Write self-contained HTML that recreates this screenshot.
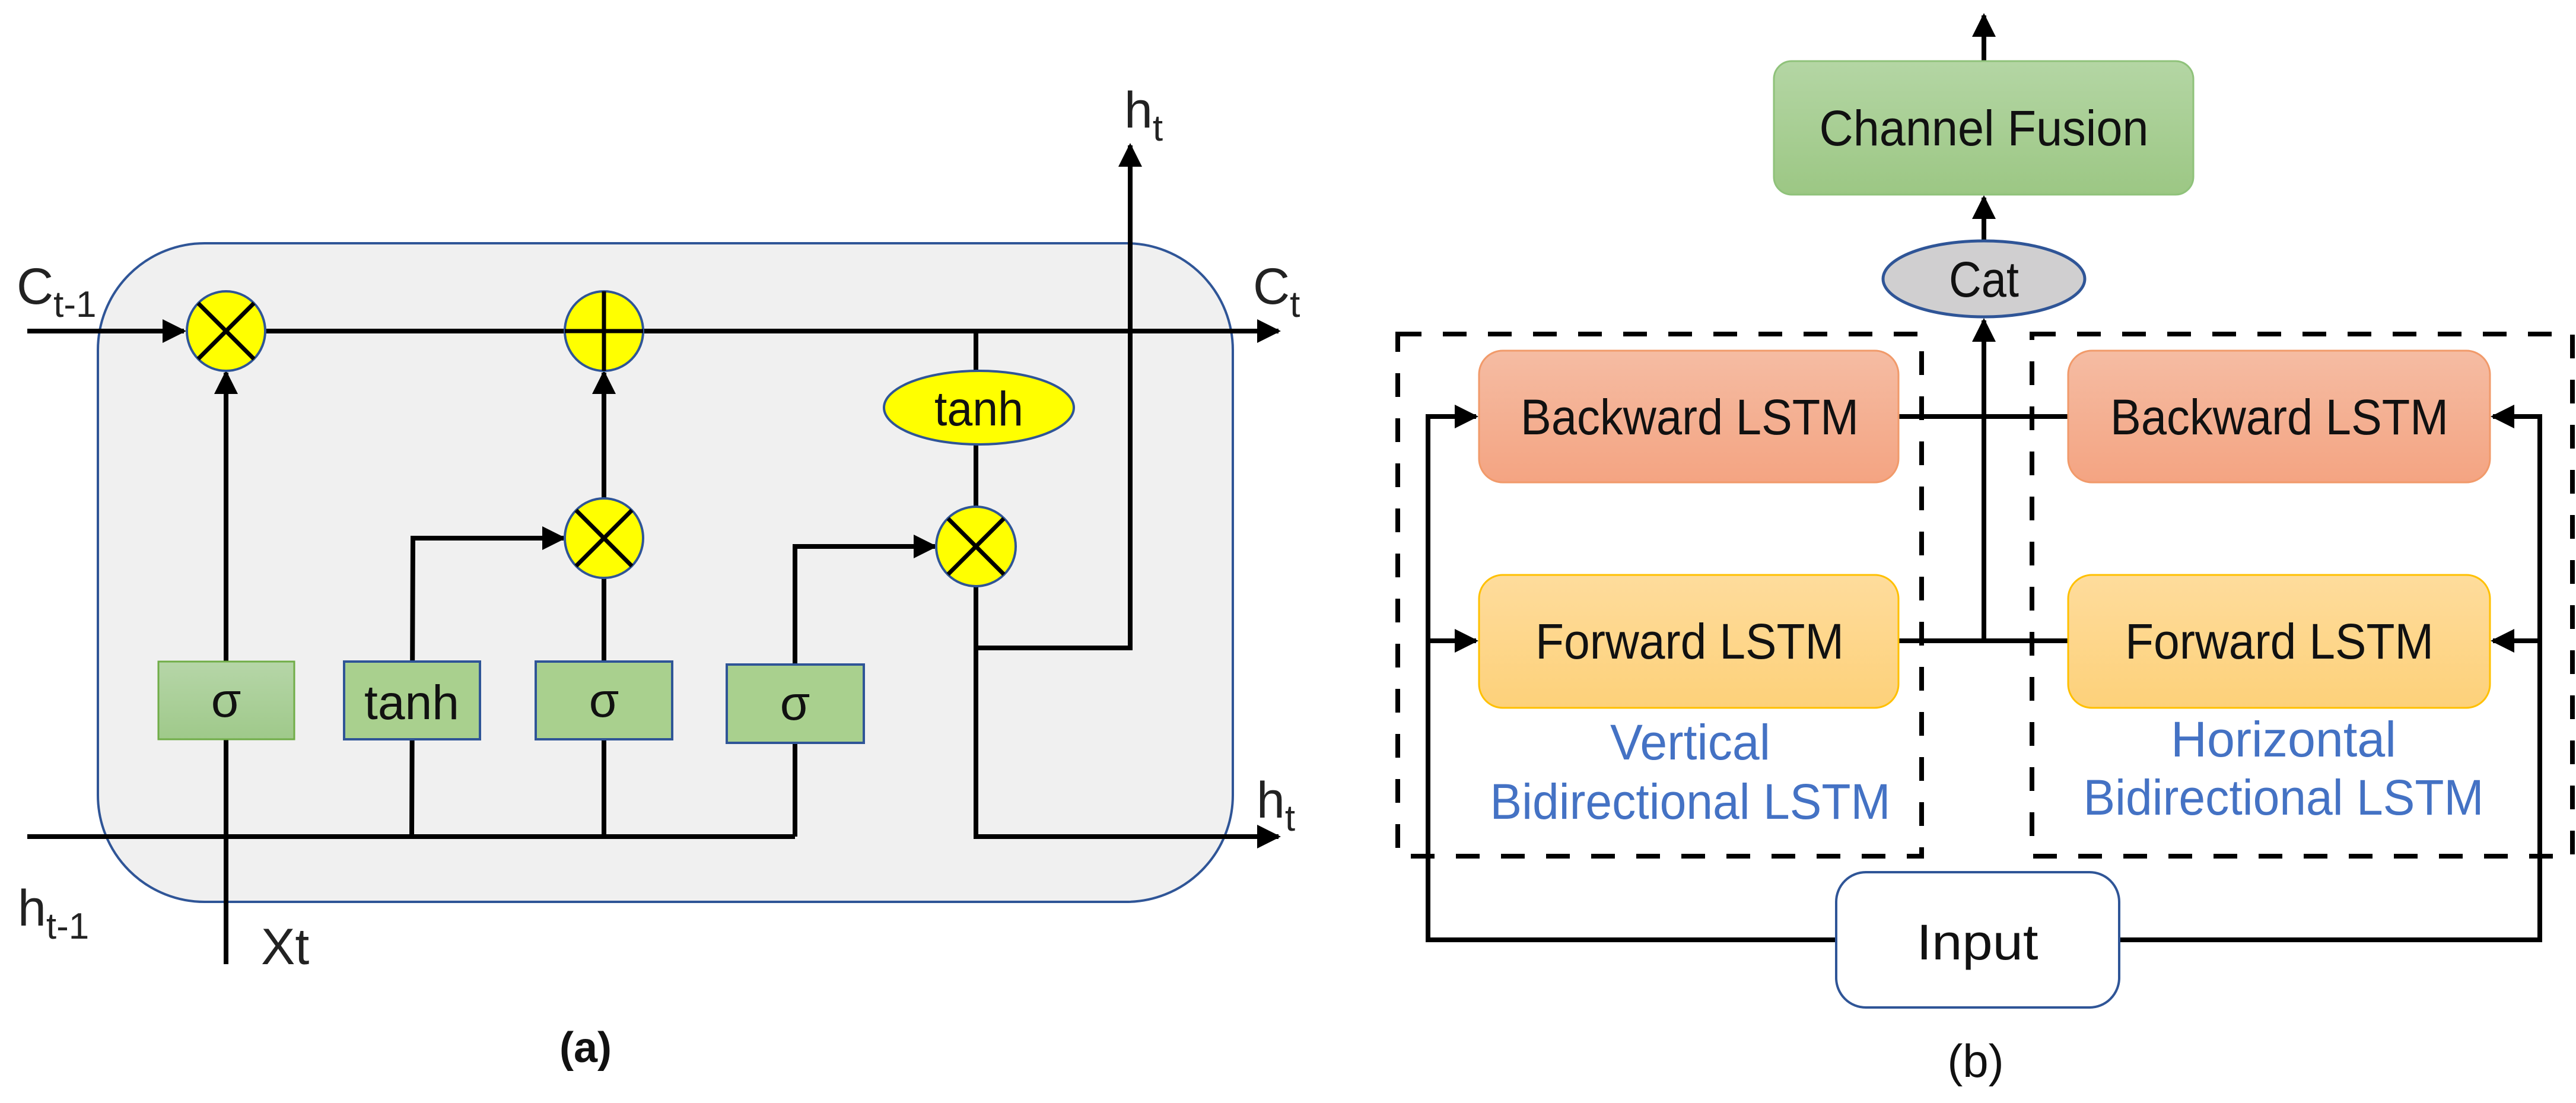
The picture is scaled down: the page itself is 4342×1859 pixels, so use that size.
<!DOCTYPE html>
<html><head><meta charset="utf-8"><style>
html,body{margin:0;padding:0;background:#fff;}
svg{display:block;}
text{font-family:"Liberation Sans",sans-serif;}
</style></head><body>
<svg width="4342" height="1859" viewBox="0 0 4342 1859" xmlns="http://www.w3.org/2000/svg">
<defs>
<marker id="ar" viewBox="0 0 10 10" refX="9" refY="5" markerWidth="5" markerHeight="5" orient="auto" markerUnits="strokeWidth"><path d="M0,0 L10,5 L0,10 z" fill="#000"/></marker>
<linearGradient id="gg" x1="0" y1="0" x2="0" y2="1"><stop offset="0" stop-color="#b4d6a4"/><stop offset="1" stop-color="#9cc784"/></linearGradient>
<linearGradient id="go" x1="0" y1="0" x2="0" y2="1"><stop offset="0" stop-color="#f5bca3"/><stop offset="1" stop-color="#f4a482"/></linearGradient>
<linearGradient id="gy" x1="0" y1="0" x2="0" y2="1"><stop offset="0" stop-color="#fedc9c"/><stop offset="1" stop-color="#fdd17a"/></linearGradient>
<linearGradient id="gb" x1="0" y1="0" x2="0" y2="1"><stop offset="0" stop-color="#b6d6a8"/><stop offset="1" stop-color="#9fc98a"/></linearGradient>
</defs>

<!-- (a) -->
<rect x="165" y="410" width="1913" height="1110" rx="180" fill="#f0f0f0" stroke="#2f5597" stroke-width="4"/>
<g stroke="#000" stroke-width="8" fill="none">
<line x1="46" y1="558" x2="310" y2="558" marker-end="url(#ar)"/>
<line x1="447" y1="558" x2="2155" y2="558" marker-end="url(#ar)"/>
<line x1="46" y1="1410" x2="1340" y2="1410"/>
<polyline points="1645,988 1645,1410 2155,1410" marker-end="url(#ar)"/>
<polyline points="1645,1092 1905,1092 1905,245" marker-end="url(#ar)"/>
<line x1="381" y1="1625" x2="381" y2="628" marker-end="url(#ar)"/>
<polyline points="694,1410 696,907 950,907" marker-end="url(#ar)"/>
<line x1="1018" y1="1410" x2="1018" y2="970"/>
<line x1="1018" y1="842" x2="1018" y2="628" marker-end="url(#ar)"/>
<polyline points="1340,1410 1340,921 1576,921" marker-end="url(#ar)"/>
<line x1="1645" y1="558" x2="1645" y2="855"/>
</g>
<rect x="267" y="1115" width="229" height="131" fill="url(#gb)" stroke="#70ad47" stroke-width="3"/>
<rect x="580" y="1115" width="229" height="131" fill="#a9d08e" stroke="#2f5597" stroke-width="4"/>
<rect x="903" y="1115" width="230" height="131" fill="#a9d08e" stroke="#2f5597" stroke-width="4"/>
<rect x="1225" y="1120" width="231" height="132" fill="#a9d08e" stroke="#2f5597" stroke-width="4"/>
<g font-size="82" text-anchor="middle" fill="#111">
<text x="381" y="1208">σ</text>
<text x="694" y="1212" textLength="160" lengthAdjust="spacingAndGlyphs">tanh</text>
<text x="1018" y="1208">σ</text>
<text x="1340" y="1213">σ</text>
</g>
<g stroke="#2f5597" stroke-width="4" fill="#ffff00">
<ellipse cx="381" cy="558" rx="66" ry="67"/>
<ellipse cx="1018" cy="558" rx="66" ry="67"/>
<ellipse cx="1018" cy="907" rx="66" ry="67"/>
<ellipse cx="1645" cy="921" rx="67" ry="67"/>
<ellipse cx="1650" cy="687" rx="160" ry="62"/>
</g>
<g stroke="#000" stroke-width="7">
<line x1="334" y1="511" x2="428" y2="605"/><line x1="428" y1="511" x2="334" y2="605"/>
<line x1="971" y1="860" x2="1065" y2="954"/><line x1="1065" y1="860" x2="971" y2="954"/>
<line x1="1598" y1="874" x2="1692" y2="968"/><line x1="1692" y1="874" x2="1598" y2="968"/>
<line x1="1018" y1="491" x2="1018" y2="625"/><line x1="952" y1="558" x2="1084" y2="558"/>
</g>
<text x="1650" y="717" font-size="82" text-anchor="middle" fill="#111" textLength="150" lengthAdjust="spacingAndGlyphs">tanh</text>
<g font-size="86" fill="#222">
<text x="28" y="512">C<tspan font-size="62" dy="22">t-1</tspan></text>
<text x="2112" y="512">C<tspan font-size="62" dy="22">t</tspan></text>
<text x="1895" y="215">h<tspan font-size="62" dy="22">t</tspan></text>
<text x="2118" y="1378">h<tspan font-size="62" dy="22">t</tspan></text>
<text x="30" y="1560">h<tspan font-size="62" dy="22">t-1</tspan></text>
<text x="440" y="1625">Xt</text>
</g>
<text x="987" y="1790" font-size="72" font-weight="bold" text-anchor="middle" fill="#111">(a)</text>

<!-- (b) -->
<g stroke="#000" stroke-width="8" fill="none" stroke-dasharray="40 36">
<rect x="2356" y="563" width="883" height="880"/>
<rect x="3425" y="563" width="911" height="880"/>
</g>
<g stroke="#000" stroke-width="8" fill="none">
<polyline points="3095,1584 2407,1584 2407,702 2488,702" marker-end="url(#ar)"/>
<line x1="2407" y1="1080" x2="2488" y2="1080" marker-end="url(#ar)"/>
<polyline points="3572,1584 4281,1584 4281,702 4202,702" marker-end="url(#ar)"/>
<line x1="4281" y1="1080" x2="4202" y2="1080" marker-end="url(#ar)"/>
<line x1="3200" y1="702" x2="3486" y2="702"/>
<line x1="3200" y1="1080" x2="3486" y2="1080"/>
<line x1="3344" y1="1080" x2="3344" y2="540" marker-end="url(#ar)"/>
<line x1="3344" y1="406" x2="3344" y2="333" marker-end="url(#ar)"/>
<line x1="3344" y1="103" x2="3344" y2="26" marker-end="url(#ar)"/>
</g>
<rect x="2990" y="103" width="707" height="225" rx="30" fill="url(#gg)" stroke="#8fc27a" stroke-width="3"/>
<ellipse cx="3344" cy="470" rx="170" ry="64" fill="#d0cfd0" stroke="#2f5597" stroke-width="5"/>
<rect x="2493" y="591" width="707" height="222" rx="40" fill="url(#go)" stroke="#f19a6a" stroke-width="3"/>
<rect x="3486" y="591" width="711" height="222" rx="40" fill="url(#go)" stroke="#f19a6a" stroke-width="3"/>
<rect x="2493" y="969" width="707" height="224" rx="40" fill="url(#gy)" stroke="#ffc000" stroke-width="3"/>
<rect x="3486" y="969" width="711" height="224" rx="40" fill="url(#gy)" stroke="#ffc000" stroke-width="3"/>
<rect x="3095" y="1470" width="477" height="228" rx="50" fill="#fff" stroke="#2f5597" stroke-width="4"/>
<g font-size="84" text-anchor="middle" fill="#111">
<text x="3344" y="245" textLength="555" lengthAdjust="spacingAndGlyphs">Channel Fusion</text>
<text x="3344" y="500" textLength="118" lengthAdjust="spacingAndGlyphs">Cat</text>
<text x="2848" y="732" textLength="570" lengthAdjust="spacingAndGlyphs">Backward LSTM</text>
<text x="3842" y="732" textLength="570" lengthAdjust="spacingAndGlyphs">Backward LSTM</text>
<text x="2848" y="1110" textLength="520" lengthAdjust="spacingAndGlyphs">Forward LSTM</text>
<text x="3842" y="1110" textLength="520" lengthAdjust="spacingAndGlyphs">Forward LSTM</text>
<text x="3333" y="1617" textLength="205" lengthAdjust="spacingAndGlyphs">Input</text>
</g>
<g font-size="84" text-anchor="middle" fill="#4472c4">
<text x="2849" y="1280" textLength="270" lengthAdjust="spacingAndGlyphs">Vertical</text>
<text x="2849" y="1380" textLength="675" lengthAdjust="spacingAndGlyphs">Bidirectional LSTM</text>
<text x="3849" y="1275" textLength="380" lengthAdjust="spacingAndGlyphs">Horizontal</text>
<text x="3849" y="1373" textLength="675" lengthAdjust="spacingAndGlyphs">Bidirectional LSTM</text>
</g>
<text x="3330" y="1815" font-size="78" text-anchor="middle" fill="#111">(b)</text>
</svg>
</body></html>
